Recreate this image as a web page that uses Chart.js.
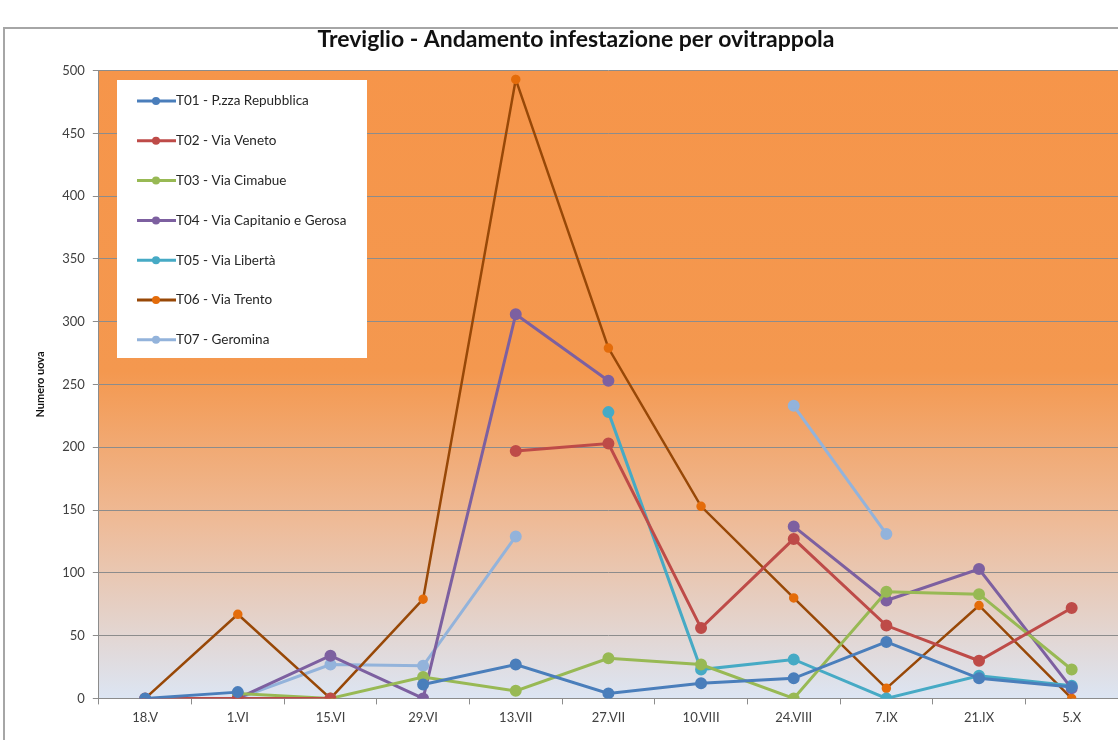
<!DOCTYPE html>
<html>
<head>
<meta charset="utf-8">
<script src="https://cdn.jsdelivr.net/npm/chart.js@4"></script>
<style>
  html, body { margin: 0; padding: 0; background: #fff; }
  #wrap { width: 1118px; height: 740px; position: relative; }
</style>
</head>
<body>
<div id="wrap"><canvas id="chart" width="1118" height="740"></canvas></div>
<script>
// Categories (sampling dates)
const dates = ['18.V', '1.VI', '15.VI', '29.VI', '13.VII', '27.VII', '10.VIII', '24.VIII', '7.IX', '21.IX', '5.X'];

// Series values (null = no reading)
const t01 = [0, 5, null, 11, 27, 4, 12, 16, 45, 16, 9];
const t02 = [0, 0, 0, null, 197, 203, 56, 127, 58, 30, 72];
const t03 = [null, 4, 0, 17, 6, 32, 27, 0, 85, 83, 23];
const t04 = [null, 0, 34, 0, 306, 253, null, 137, 78, 103, 8];
const t05 = [null, null, null, null, null, 228, 23, 31, 0, 18, 10];
const t06 = [0, 67, 0, 79, 493, 279, 153, 80, 8, 74, 0];
const t07 = [null, 0, 27, 26, 129, null, null, 233, 131, null, null];

const yTicks = [0, 50, 100, 150, 200, 250, 300, 350, 400, 450, 500];

const font = "Lato, 'Open Sans', sans-serif";

function series(label, data, color, pointColor, width, radius) {
    return {
        label: label,
        data: data,
        borderColor: color,
        backgroundColor: pointColor,
        pointBackgroundColor: pointColor,
        pointBorderColor: pointColor,
        borderWidth: width,
        pointRadius: radius,
        pointHoverRadius: radius,
        spanGaps: false,
        tension: 0
    };
}

// Frame, gradient plot background
const backdrop = {
    id: 'backdrop',
    beforeDraw(chart) {
        const ctx = chart.ctx;
        const a = chart.chartArea;
        ctx.save();
        ctx.strokeStyle = '#a6a6a6';
        ctx.lineWidth = 2;
        ctx.strokeRect(4, 28, 1130, 730);
        const g = ctx.createLinearGradient(0, a.top, 0, a.bottom);
        g.addColorStop(0, '#f6954a');
        g.addColorStop(0.48, '#f4984f');
        g.addColorStop(0.72, '#eebb98');
        g.addColorStop(1, '#dce5f3');
        ctx.fillStyle = g;
        ctx.fillRect(a.left, a.top, a.right - a.left, a.bottom - a.top);
        ctx.restore();
    }
};

// Legend box drawn inside the plot
const boxLegend = {
    id: 'boxLegend',
    afterDatasetsDraw(chart) {
        const ctx = chart.ctx;
        ctx.save();
        ctx.fillStyle = '#ffffff';
        ctx.fillRect(117, 80, 250, 278);
        ctx.font = '13.5px ' + font;
        ctx.textBaseline = 'middle';
        chart.data.datasets.forEach((ds, i) => {
            const y = 101 + i * 39.8;
            ctx.strokeStyle = ds.borderColor;
            ctx.lineWidth = 3;
            ctx.beginPath();
            ctx.moveTo(137, y);
            ctx.lineTo(176, y);
            ctx.stroke();
            ctx.fillStyle = ds.pointBackgroundColor;
            ctx.beginPath();
            ctx.arc(156, y, 4, 0, Math.PI * 2);
            ctx.fill();
            ctx.fillStyle = '#262626';
            ctx.fillText(ds.label, 176, y);
        });
        ctx.restore();
    }
};

new Chart(document.getElementById('chart'), {
    type: 'line',
    data: {
        labels: dates,
        datasets: [
            series('T01 - P.zza Repubblica', t01, '#4a7ebb', '#4a7ebb', 3, 4.5),
            series('T02 - Via Veneto', t02, '#be4b48', '#be4b48', 3, 4.5),
            series('T03 - Via Cimabue', t03, '#98b954', '#98b954', 3, 4.5),
            series('T04 - Via Capitanio e Gerosa', t04, '#7d60a0', '#7d60a0', 3, 4.5),
            series('T05 - Via Libertà', t05, '#46aac5', '#46aac5', 3, 4.5),
            series('T06 - Via Trento', t06, '#984807', '#e46c0a', 2.5, 3.5),
            series('T07 - Geromina', t07, '#93b3db', '#93b3db', 3, 4.5)
        ]
    },
    options: {
        responsive: false,
        animation: false,
        layout: {
            autoPadding: false,
            padding: { left: 34, right: 0, top: 6, bottom: 8 }
        },
        plugins: {
            legend: { display: false },
            tooltip: { enabled: false },
            title: {
                display: true,
                text: 'Treviglio - Andamento infestazione per ovitrappola',
                color: '#111',
                font: { size: 23, weight: 'bold', family: font },
                padding: { top: 20, bottom: 17 }
            }
        },
        scales: {
            x: {
                type: 'category',
                offset: true,
                afterFit(axis) {
                    axis.paddingLeft = 0;
                    axis.paddingRight = 0;
                },
                border: { color: '#8c8c8c', width: 1 },
                grid: {
                    offset: true,
                    drawOnChartArea: false,
                    drawTicks: true,
                    tickLength: 6,
                    color: '#8c8c8c'
                },
                ticks: {
                    color: '#404040',
                    font: { size: 13, family: font },
                    padding: 6,
                    maxRotation: 0
                }
            },
            y: {
                min: 0,
                max: 500,
                afterBuildTicks(axis) {
                    axis.ticks = yTicks.map(v => ({ value: v }));
                },
                border: { color: '#8c8c8c', width: 1 },
                grid: {
                    color: '#8c8c8c',
                    lineWidth: 1,
                    drawTicks: true,
                    tickLength: 6
                },
                ticks: {
                    color: '#404040',
                    font: { size: 13, family: font },
                    padding: 8
                },
                title: {
                    display: true,
                    text: 'Numero uova',
                    color: '#111',
                    font: { size: 11, weight: 'bold', family: font },
                    padding: { top: 0, bottom: 7 }
                }
            }
        }
    },
    plugins: [backdrop, boxLegend]
});
</script>
</body>
</html>
